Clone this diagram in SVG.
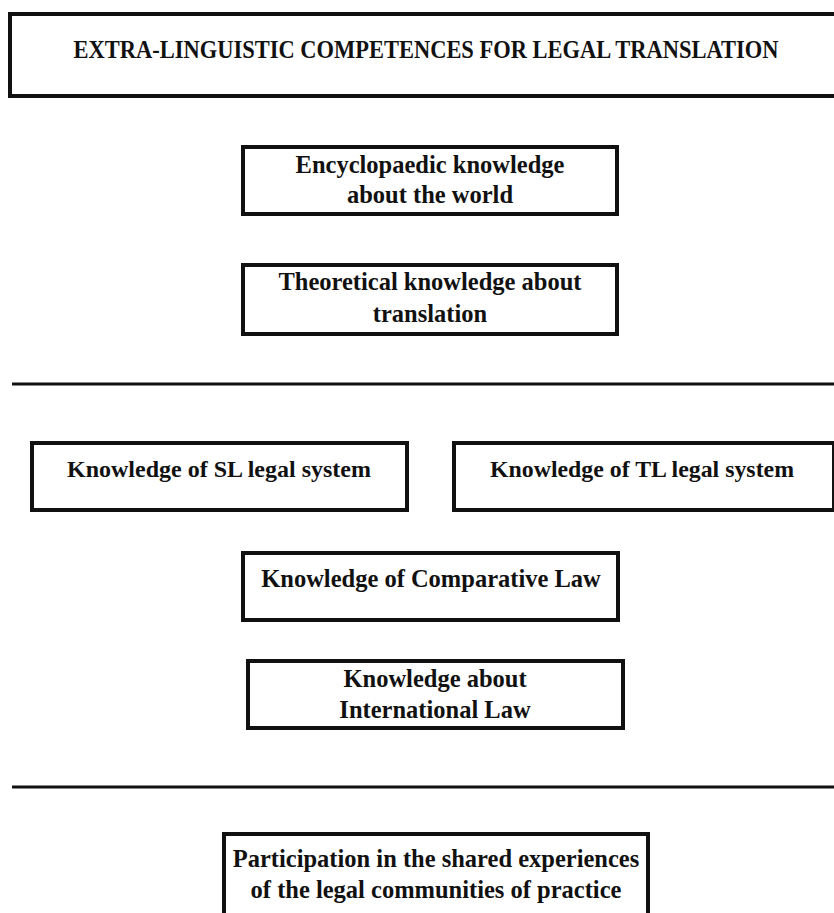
<svg xmlns="http://www.w3.org/2000/svg" width="834" height="913" viewBox="0 0 834 913">
<style>
.box{fill:#fff;stroke:#111;stroke-width:4}
.sep{stroke:#111;stroke-width:3}
.t{font-family:"Liberation Serif","Times New Roman",serif;font-weight:bold;fill:#111;text-anchor:middle;font-size:24.5px}
.c{font-size:24px}
.h{font-size:26px}
</style>
<rect width="834" height="913" fill="#fff"/>
<g id="connectors">
<line class="sep" x1="12" y1="384" x2="834" y2="384"/>
<line class="sep" x1="12" y1="787" x2="834" y2="787"/>
</g>
<g id="title">
<rect class="box" x="10" y="14" width="827" height="82"/>
<text class="t h" x="426" y="58" textLength="705" lengthAdjust="spacingAndGlyphs">EXTRA-LINGUISTIC COMPETENCES FOR LEGAL TRANSLATION</text>
</g>
<g id="encyclopaedic">
<rect class="box" x="243" y="147" width="374" height="67"/>
<text class="t" x="430" y="173">Encyclopaedic knowledge</text>
<text class="t" x="430" y="203">about the world</text>
</g>
<g id="theoretical">
<rect class="box" x="243" y="265" width="374" height="69"/>
<text class="t" x="430" y="290">Theoretical knowledge about</text>
<text class="t" x="430" y="322">translation</text>
</g>
<g id="sl">
<rect class="box" x="32" y="443" width="375" height="67"/>
<text class="t c" x="219" y="477" textLength="304" lengthAdjust="spacingAndGlyphs">Knowledge of SL legal system</text>
</g>
<g id="tl">
<rect class="box" x="454" y="443" width="380" height="67"/>
<text class="t c" x="642" y="477" textLength="304" lengthAdjust="spacingAndGlyphs">Knowledge of TL legal system</text>
</g>
<g id="comparative">
<rect class="box" x="243" y="553" width="375" height="67"/>
<text class="t" x="431" y="587">Knowledge of Comparative Law</text>
</g>
<g id="international">
<rect class="box" x="248" y="661" width="375" height="67"/>
<text class="t" x="435" y="687">Knowledge about</text>
<text class="t" x="435" y="718">International Law</text>
</g>
<g id="participation">
<rect class="box" x="224" y="834" width="424" height="90"/>
<text class="t" x="436" y="867">Participation in the shared experiences</text>
<text class="t" x="436" y="898">of the legal communities of practice</text>
</g>
</svg>
